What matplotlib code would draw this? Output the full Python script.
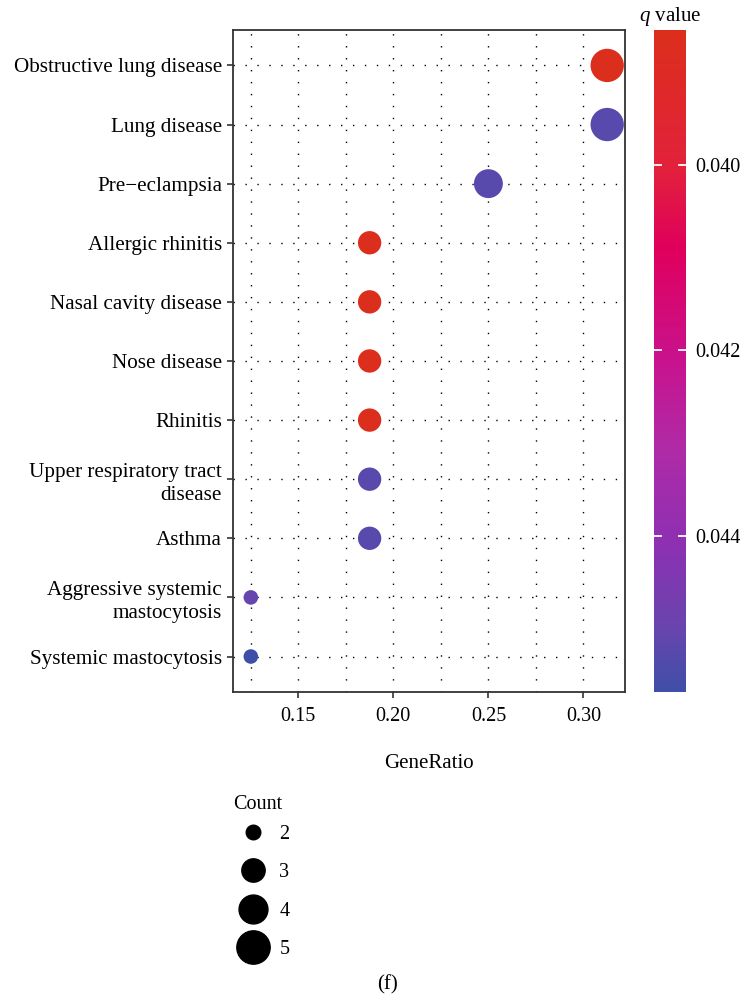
import numpy as np
import matplotlib
matplotlib.use("Agg")
import matplotlib.pyplot as plt
from matplotlib.colors import LinearSegmentedColormap, Normalize
from matplotlib.lines import Line2D
from matplotlib.ticker import MultipleLocator, FormatStrFormatter

plt.rcParams['font.family'] = ['Liberation Serif', 'DejaVu Serif']
plt.rcParams['mathtext.fontset'] = 'custom'
plt.rcParams['mathtext.it'] = 'Liberation Serif:italic'
plt.rcParams['mathtext.rm'] = 'Liberation Serif'

terms = [
    "Obstructive lung disease",
    "Lung disease",
    "Pre\u2212eclampsia",
    "Allergic rhinitis",
    "Nasal cavity disease",
    "Nose disease",
    "Rhinitis",
    "Upper respiratory tract\ndisease",
    "Asthma",
    "Aggressive systemic\nmastocytosis",
    "Systemic mastocytosis",
]
gene_ratio = [0.3125, 0.3125, 0.25, 0.1875, 0.1875, 0.1875, 0.1875, 0.1875, 0.1875, 0.125, 0.125]
counts = [5, 5, 4, 3, 3, 3, 3, 3, 3, 2, 2]
q_values = [0.03855, 0.04525, 0.04525, 0.03855, 0.03855, 0.03855, 0.03855, 0.04525, 0.04525, 0.0450, 0.04568]
legend_counts = [2, 3, 4, 5]
q_ticks = [0.040, 0.042, 0.044]

# gradient: low q red -> magenta -> purple -> blue for high q
cmap = LinearSegmentedColormap.from_list(
    "qcol",
    [(0.0, "#dc2e1c"), (0.20, "#e2223a"), (0.33, "#e0005c"),
     (0.50, "#c8128e"), (0.63, "#b02aa6"), (0.78, "#8c30b2"),
     (0.90, "#6a44ae"), (1.0, "#3f4fa8")])
norm = Normalize(vmin=min(q_values), vmax=max(q_values))


def dot_diameter(c):
    # marker diameter in points, scaled on sqrt of the count
    lo, hi = np.sqrt(2), np.sqrt(5)
    return 10.5 + (24.0 - 10.5) * ((np.sqrt(c) - lo) / (hi - lo)) ** 0.8


fig = plt.figure(figsize=(7.43, 10.02), dpi=100)
ax = fig.add_axes([0.3136, 0.3094, 0.5276, 0.6607])
cax = fig.add_axes([0.8802, 0.3094, 0.0431, 0.6607])

y = np.arange(len(terms))[::-1]
sizes = [dot_diameter(c) ** 2 for c in counts]
ax.scatter(gene_ratio, y, s=sizes, c=q_values, cmap=cmap, norm=norm,
           linewidths=0, zorder=3)

span = max(gene_ratio) - min(gene_ratio)
ax.set_xlim(min(gene_ratio) - 0.05 * span, max(gene_ratio) + 0.05 * span)
ax.set_ylim(-0.6, len(terms) - 1 + 0.6)
ax.set_yticks(y)
ax.set_yticklabels(terms, fontsize=15.2, linespacing=1.3)
ax.xaxis.set_major_locator(MultipleLocator(0.05))
ax.xaxis.set_minor_locator(MultipleLocator(0.025))
ax.xaxis.set_major_formatter(FormatStrFormatter('%.2f'))
ax.tick_params(axis='x', which='major', labelsize=14.5, length=4, width=1.2,
               color='#333333', pad=7)
ax.tick_params(axis='x', which='minor', length=0)
ax.tick_params(axis='y', length=4, width=1.2, color='#333333', pad=4)

dots = (0, (1.0, 7.6))
ax.grid(True, which='major', axis='both', color='black', linestyle=dots, linewidth=1.0)
ax.grid(True, which='minor', axis='x', color='black', linestyle=dots, linewidth=1.0)
ax.set_axisbelow(True)
for sp in ax.spines.values():
    sp.set_color('#333333')
    sp.set_linewidth(1.3)

ax.set_xlabel("GeneRatio", fontsize=15, labelpad=20)

# colour bar for q value, reversed so low q sits on top
cb = fig.colorbar(plt.cm.ScalarMappable(norm=norm, cmap=cmap), cax=cax)
cb.outline.set_visible(False)
cax.invert_yaxis()
cb.set_ticks(q_ticks)
cb.set_ticklabels([f"{t:.3f}" for t in q_ticks])
cax.tick_params(labelsize=14.5, length=0, pad=7)
for t in q_ticks:
    cax.plot([0, 0.22], [t, t], color='white', lw=1.3, transform=cax.get_yaxis_transform())
    cax.plot([0.78, 1], [t, t], color='white', lw=1.3, transform=cax.get_yaxis_transform())
fig.text(0.9016, 0.984, "$q$ value", fontsize=15, ha='center', va='center')

# size legend
handles = [Line2D([], [], linestyle='none', marker='o', color='black',
                  markersize=dot_diameter(c)) for c in legend_counts]
leg = fig.legend(handles, [str(c) for c in legend_counts], title="Count",
                 loc='upper left', bbox_to_anchor=(0.300, 0.217), frameon=False,
                 fontsize=14.5, title_fontsize=14.5, labelspacing=0.96,
                 handletextpad=0.3, borderpad=0, handlelength=2.0)
leg._legend_box.align = "left"
leg._legend_box.sep = 8

fig.text(0.522, 0.017, "(f)", fontsize=15, ha='center', va='center')

fig.savefig("out.png", dpi=100)
